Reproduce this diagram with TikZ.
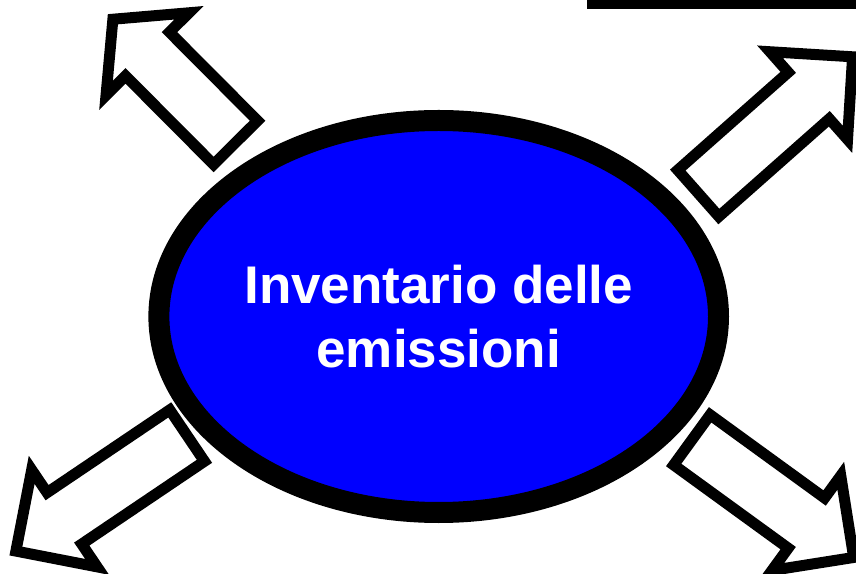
\documentclass[tikz,border=0pt]{standalone}
\usepackage{fontspec}
\setmainfont{Liberation Sans}
\usepackage{tikz}
\usetikzlibrary{shapes, positioning}
\definecolor{invblue}{RGB}{0, 0, 255}

\tikzset{
  outarrow/.style={single arrow, draw=black, fill=white, line width=11pt,
    inner xsep=0pt, inner ysep=25.5pt, outer sep=0pt, text height=0pt, text depth=0pt,
    single arrow head extend=27.5pt, anchor=tail},
  core/.style={ellipse, draw=black, fill=invblue, line width=21pt, inner sep=0pt, outer sep=0pt,
    minimum width=559.6pt, minimum height=392pt, text=white, align=center,
    font=\fontsize{53}{64}\selectfont\bfseries}
}

\begin{document}
\begin{tikzpicture}[x=1pt, y=1pt]
  \useasboundingbox (0,0) rectangle (856,573);
  \fill[black] (587,564) rectangle (856,575);
  % the four arrows pointing outwards
  \node[outarrow, rotate=134.85, single arrow tip angle=100, minimum height=174pt] (nw) at (235.6,430.4) {};
  \node[outarrow, rotate=41.5, minimum height=206pt] (ne) at (698.3,379.7) {};
  \node[outarrow, rotate=214, minimum height=206.5pt] (sw) at (187.1,137.4) {};
  \node[outarrow, rotate=-36, minimum height=200pt] (se) at (691.9,133.1) {};
  % the inventory in the middle
  \node[core] (inv) at (438.7,256.5) {Inventario delle\\emissioni};
\end{tikzpicture}
\end{document}
